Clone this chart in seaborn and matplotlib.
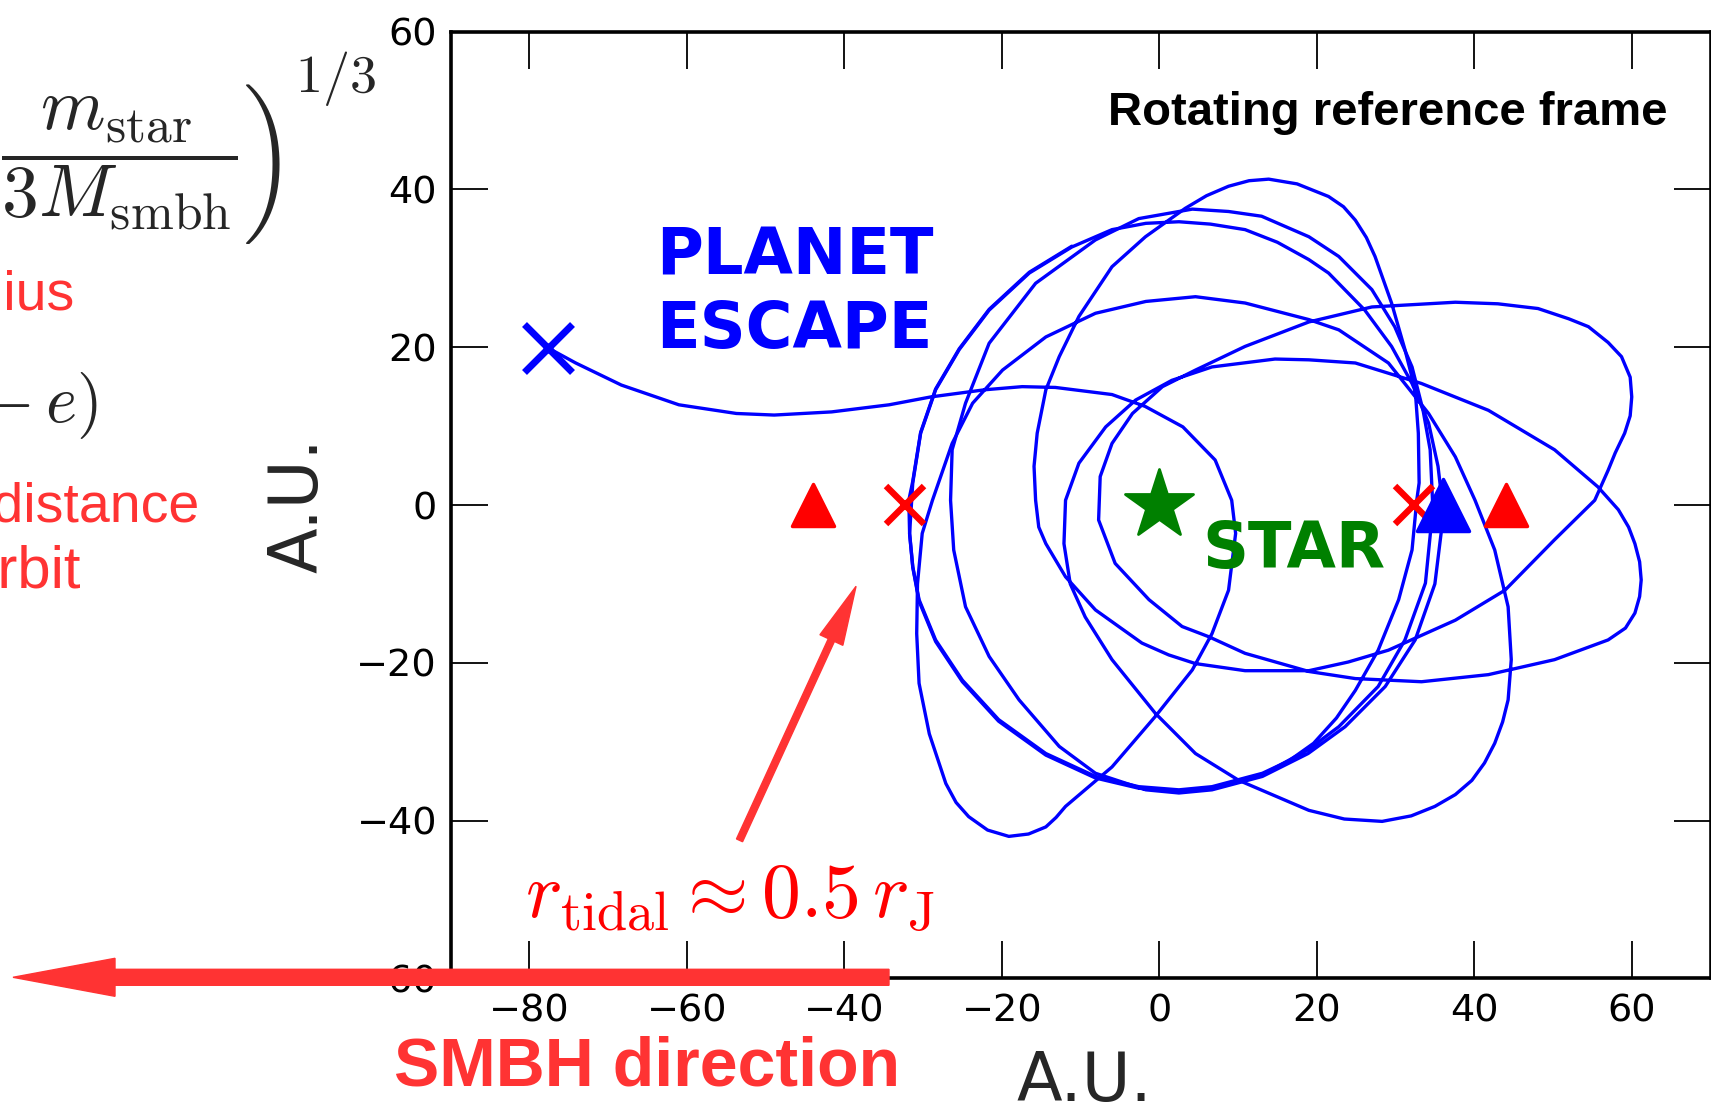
import matplotlib
matplotlib.use("Agg")
import matplotlib.pyplot as plt
from matplotlib.markers import MarkerStyle
from matplotlib.patches import FancyArrow
from matplotlib.transforms import IdentityTransform, Bbox
import pandas as pd
import seaborn as sns

# ---------------- planet trajectory in the rotating frame (A.U.) ----------------
orbit_x = [36.0, 35.9, 35.4, 34.2, 32.1, 29.5, 26.1, 21.5, 19.0, 15.0, 10.9, 6.5, 2.5, -1.7, -6.0,
           -11.1, -16.5, -21.6, -25.4, -28.4, -30.3, -31.3, -31.7, -31.3, -30.5, -28.4, -25.0, -20.4,
           -14.4, -8.1, -2.6, 2.5, 6.7, 13.1, 16.5, 19.6, 22.5, 24.9, 27.8, 30.4, 32.1, 32.7, 33.0,
           32.9, 32.5, 31.2, 29.5, 27.4, 26.3, 24.9, 23.4, 21.5, 17.5, 13.9, 11.4, 8.8, 6.0, 3.3,
           -1.75, -6.0, -10.2, -12.7, -14.4, -15.5, -15.9, -15.7, -15.3, -14.4, -11.9, -8.1, -2.2,
           1.2, 4.6, 10.9, 19.0, 24.0, 29.1, 37.6, 43.9, 50.2, 55.3, 57.0, 57.9, 59.1, 59.8, 60.0,
           59.8, 58.7, 57.0, 54.5, 52.0, 48.1, 43.0, 37.6, 27.0, 19.0, 10.9, 4.6, 0.4, -3.4, -6.0,
           -7.5, -7.7, -5.6, -1.3, 2.9, 6.3, 10.9, 19.0, 24.9, 33.3, 41.8, 50.2, 57.0, 59.2, 60.4,
           61.0, 61.2, 61.0, 60.4, 59.6, 58.3, 55.7, 50.2, 41.8, 33.3, 24.9, 19.0, 14.7, 6.7, 1.6,
           -3.0, -6.8, -10.2, -11.9, -12.1, -11.3, -9.4, -6.0, -0.5, 4.6, 10.1, 19.0, 23.5, 28.3,
           32.0, 35.0, 37.6, 39.7, 41.3, 42.6, 43.6, 44.3, 44.7, 44.3, 42.6, 40.1, 37.6, 34.2, 29.1,
           22.8, 19.0, 10.9, 4.6, -1.7, -8.1, -14.4, -19.9, -23.7, -26.3, -28.8, -30.1, -30.7, -30.8,
           -30.5, -29.2, -27.1, -25.8, -24.2, -21.8, -19.1, -16.6, -14.4, -13.1, -11.9, -6.0, -0.5,
           4.2, 6.7, 8.8, 9.7, 9.2, 7.1, 3.0, -1.8, -6.0, -13.2, -17.4, -22.2, -29.0, -34.3, -41.6,
           -48.9, -53.7, -61.0, -68.3, -74.1, -77.6]
orbit_y = [0.0, 0.6, 4.9, 10.4, 15.4, 20.1, 24.7, 29.4, 31.1, 33.3, 34.9, 35.6, 35.9, 35.7, 34.9,
           32.7, 29.4, 24.7, 19.7, 14.6, 9.1, 2.8, -3.6, -7.8, -12.0, -17.1, -22.2, -27.2, -31.5,
           -34.4, -35.7, -36.1, -35.7, -34.0, -32.4, -30.2, -27.0, -23.5, -18.4, -12.0, -5.7, 0.6,
           2.8, 9.1, 14.6, 19.7, 25.6, 31.5, 33.9, 36.1, 37.8, 39.1, 40.7, 41.3, 41.1, 40.4, 39.2,
           37.6, 34.0, 30.2, 23.9, 18.8, 14.6, 9.1, 4.9, 0.6, -2.8, -4.9, -9.1, -13.3, -17.5, -19.0,
           -20.1, -21.0, -21.0, -19.9, -18.4, -14.6, -10.8, -4.4, 0.6, 4.4, 6.6, 9.1, 11.3, 13.7,
           16.2, 18.8, 20.6, 22.6, 23.6, 24.9, 25.5, 25.7, 25.1, 23.2, 20.1, 17.1, 15.0, 11.6, 7.8,
           3.6, -1.9, -7.4, -12.0, -15.4, -16.7, -18.8, -21.1, -22.0, -22.4, -21.5, -19.6, -17.1,
           -15.6, -13.7, -11.6, -9.5, -7.2, -4.9, -2.8, -0.6, 2.3, 7.0, 12.0, 15.4, 18.0, 18.4, 18.5,
           17.5, 15.8, 13.3, 9.9, 5.3, 0.6, -4.9, -10.0, -14.2, -19.6, -26.4, -31.5, -34.9, -38.7,
           -39.8, -40.1, -39.4, -38.2, -36.7, -34.9, -32.7, -30.2, -27.5, -24.7, -19.6, -12.9, -5.7,
           0.6, 6.1, 11.6, 18.0, 22.2, 23.5, 25.6, 26.4, 25.8, 24.3, 21.3, 17.1, 12.9, 7.8, 0.6,
           -3.6, -10.0, -16.3, -22.6, -29.0, -35.3, -37.7, -39.5, -41.2, -42.0, -41.7, -40.8, -39.6,
           -38.2, -33.2, -26.8, -20.9, -16.3, -10.8, -3.6, 0.6, 5.7, 9.9, 12.5, 14.0, 14.9, 15.0,
           14.6, 13.7, 12.7, 11.8, 11.4, 11.6, 12.7, 15.2, 18.0, 19.9]

# earlier revolutions close to the outer left edge of the bound region
loop_x = [36.0, 35.9, 35.0, 32.5, 28.7, 23.6, 18.9, 13.1, 6.7, 2.5, -1.7, -8.1, -12.7, -17.8, -21.6,
          -24.6, -26.1, -26.5, -26.3, -24.6, -21.6, -15.7, -8.1, -2.6, 4.2, 8.8, 13.0, 19.0, 22.8,
          27.0, 29.9, 32.1, 33.5, 34.4, 34.7, 34.6, 33.8, 31.2, 27.8, 22.8, 18.9, 13.1, 6.7, 2.5,
          -2.6, -8.1, -14.4, -20.4, -25.0, -28.4, -30.5, -31.3, -31.7, -31.8, -31.3, -30.3, -28.4,
          -25.4, -21.6, -16.5, -11.1]
loop_y = [0.0, -2.7, -10.0, -17.1, -23.0, -28.1, -31.5, -34.4, -36.1, -36.5, -36.1, -34.0, -30.6,
          -24.7, -19.2, -12.9, -5.7, 0.6, 7.0, 12.9, 20.5, 28.1, 33.6, 36.3, 37.5, 37.2, 36.6, 34.0,
          31.5, 27.3, 22.6, 17.5, 12.0, 7.0, 0.6, -1.9, -9.9, -17.1, -23.0, -28.1, -31.0, -34.2,
          -35.9, -36.3, -35.9, -34.6, -31.7, -27.4, -22.4, -17.3, -12.2, -7.9, -3.7, 0.6, 3.0, 9.2,
          14.7, 19.8, 24.8, 29.5, 32.8]

# special points
star_xy = (0.0, 0.0)
planet_start = (36.0, 0.0)
planet_end = (-77.6, 19.9)
jacobi_x = [-44.0, 44.0]
tidal_x = [-32.3, 32.3]

x_ticks = [-80, -60, -40, -20, 0, 20, 40, 60]
y_ticks = [-60, -40, -20, 0, 20, 40, 60]

# ---------------- style ----------------
sns.set_theme(style="ticks")
plt.rcParams["font.family"] = ["DejaVu Sans"]
plt.rcParams["mathtext.fontset"] = "cm"
plt.rcParams["axes.unicode_minus"] = True

W, H = 1711, 1107
fig = plt.figure(figsize=(W / 100, H / 100), dpi=100)
ax = fig.add_axes([450.5 / W, 1 - 978.4 / H, 1260 / W, 946.8 / H])

BLUE = "#0000ff"
RED = "#ff0000"
LRED = "#ff3333"
GREEN = "#008000"

orbit = pd.DataFrame({"x": orbit_x, "y": orbit_y})
loop = pd.DataFrame({"x": loop_x, "y": loop_y})
sns.lineplot(data=loop, x="x", y="y", sort=False, estimator=None, color=BLUE, lw=2.4, ax=ax)
sns.lineplot(data=orbit, x="x", y="y", sort=False, estimator=None, color=BLUE, lw=2.4, ax=ax)

tri_red = MarkerStyle("^", joinstyle="round")
ax.plot(jacobi_x, [0, 0], ls="none", marker=tri_red, ms=30, mew=2.5, color=RED, zorder=5)
ax.plot(tidal_x, [0, 0], ls="none", marker="x", ms=27, mew=4.6, color=RED, zorder=5)
ax.plot([planet_start[0]], [planet_start[1]], ls="none", marker=MarkerStyle("^", joinstyle="round"),
        ms=37, mew=2.5, color=BLUE, zorder=6)
ax.plot([planet_end[0]], [planet_end[1]], ls="none", marker="x", ms=34, mew=5.0, color=BLUE, zorder=6)
ax.plot([star_xy[0]], [star_xy[1]], ls="none", marker=MarkerStyle("*", joinstyle="round"),
        ms=52, mew=2, color=GREEN, zorder=6)

# axes styling
ax.set_xlim(-90, 70)
ax.set_ylim(-60, 60)
ax.set_xticks(x_ticks)
ax.set_yticks(y_ticks)
for s in ax.spines.values():
    s.set_linewidth(2.6)
    s.set_color("black")
ax.tick_params(direction="in", length=26.5, width=1.3, labelsize=27.5, top=True, right=True,
               colors="black")
ax.tick_params(axis="x", pad=11)
ax.tick_params(axis="y", pad=9.7)
ax.set_xlabel("A.U.", fontsize=48, labelpad=14, x=0.503)
ax.set_ylabel("A.U.", fontsize=48, labelpad=18)

# labels inside the frame
ax.text(-63.9, 29.2, "PLANET", color=BLUE, fontsize=46, fontweight="bold", ha="left", va="baseline")
ax.text(-63.9, 19.9, "ESCAPE", color=BLUE, fontsize=46, fontweight="bold", ha="left", va="baseline")
ax.text(5.5, -8.0, "STAR", color=GREEN, fontsize=46, fontweight="bold", ha="left", va="baseline")
ax.text(64.6, 48.2, "Rotating reference frame", family="Liberation Sans", fontweight="bold",
        fontsize=34, ha="right", va="baseline", color="black")
ax.text(-80.6, -52.2, r"$r_{\mathrm{tidal}} \approx 0.5\, r_{\mathrm{J}}$", color=RED, fontsize=56,
        ha="left", va="baseline", zorder=7)
ax.arrow(-53.3, -42.5, 14.8, 32.2, width=0.85, head_width=3.2, head_length=7.5,
         length_includes_head=True, color=LRED, zorder=7)


def fx(px):
    return px / W


def fy(py):
    return 1 - py / H


# side notes in figure pixels
frac = r"\dfrac{m_{\mathrm{star}}}{3M_{\mathrm{smbh}}}"
fig.text(fx(237.5), fy(170), r"$r_{\mathrm{J}} = a\left(" + frac + r"\right.$",
         fontsize=53, ha="right", va="baseline")
# closing bracket drawn at display size; only the bracket itself is kept visible
paren = fig.text(fx(281), fy(174), r"$\left." + frac + r"\right)$", fontsize=64, ha="right",
                 va="baseline")
paren.set_clip_box(Bbox.from_extents(241, 0, 297, H))
paren.set_clip_on(True)
fig.text(fx(295), fy(92), r"$1/3$", fontsize=39, ha="left", va="baseline")

fig.text(fx(74), fy(310), "Jacobi radius", family="Liberation Sans", fontsize=40, color=LRED,
         ha="right", va="baseline")
fig.text(fx(98), fy(423), r"$r_{\mathrm{p}} = a\,(1 - e)$", fontsize=48, ha="right", va="baseline")
fig.text(fx(199), fy(522), "Pericenter distance", family="Liberation Sans", fontsize=40, color=LRED,
         ha="right", va="baseline")
fig.text(fx(81), fy(587), "of the orbit", family="Liberation Sans", fontsize=43, color=LRED,
         ha="right", va="baseline")
fig.text(fx(647), fy(1085), "SMBH direction", family="Liberation Sans", fontweight="bold", fontsize=49,
         color=LRED, ha="center", va="baseline")

smbh_arrow = FancyArrow(889, H - 977.3, -876, 0, width=16, head_width=38, head_length=102,
                        length_includes_head=True, color=LRED, transform=IdentityTransform(),
                        zorder=20)
fig.add_artist(smbh_arrow)

fig.savefig("out.png", dpi=100)
